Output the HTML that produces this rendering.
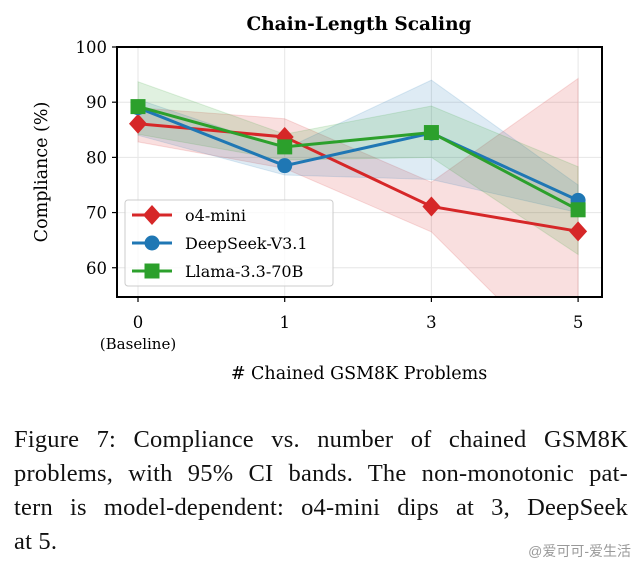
<!DOCTYPE html>
<html><head><meta charset="utf-8"><style>
body{margin:0;width:639px;height:568px;background:#fff;overflow:hidden;font-family:"Liberation Serif","DejaVu Serif",serif;}
#cap{position:absolute;left:14px;top:423px;width:614px;font-size:24.5px;letter-spacing:0.2px;line-height:34px;color:#111;}
#cap div{text-align:justify;text-align-last:justify;white-space:nowrap;}
#cap div.last{text-align-last:left;}
#wm{position:absolute;right:8px;top:541px;font-size:14px;color:#999;font-family:"Liberation Sans","Noto Sans CJK SC",sans-serif;}
</style></head><body>
<svg id="chart" width="639" height="420" style="position:absolute;left:0;top:0" font-family="DejaVu Serif, Liberation Serif, serif"></svg>
<div id="cap"><div>Figure 7: Compliance vs. number of chained GSM8K</div><div>problems, with 95% CI bands. The non-monotonic pat-</div><div>tern is model-dependent: o4-mini dips at 3, DeepSeek</div><div class="last">at 5.</div></div>
<div id="wm">@爱可可-爱生活</div>
<script>
const categories=["0","1","3","5"];
const yTicks=[60,70,80,90,100];
const o4Values=[86.1,83.7,71.1,66.6];
const o4Lo=[82.8,78,66.5,40];
const o4Hi=[89,87,75.5,94.3];
const dsValues=[89,78.5,84.4,72.2];
const dsLo=[84,76.8,76,70];
const dsHi=[90.5,81.5,94,75];
const llValues=[89.2,81.9,84.5,70.5];
const llLo=[84.2,79.5,80,62.4];
const llHi=[93.7,84.2,89.3,78.3];
const NS="http://www.w3.org/2000/svg";
const svg=document.getElementById('chart');
const L=117,R=602,T=47,B=297,ymin=54.7,ymax=100;
const X=i=>138+i*146.7;
const Y=v=>T+(ymax-v)/(ymax-ymin)*(B-T);
function mk(t,a,p){const e=document.createElementNS(NS,t);for(const k in a)e.setAttribute(k,a[k]);(p||svg).appendChild(e);return e;}
const defs=mk('defs',{});const cp=mk('clipPath',{id:'cp'},defs);mk('rect',{x:L,y:T,width:R-L,height:B-T},cp);
const grid=mk('g',{});


yTicks.forEach(v=>{mk('line',{x1:L,x2:R,y1:Y(v),y2:Y(v),stroke:'#e6e6e6','stroke-width':1},grid);});
categories.forEach((c,i)=>{mk('line',{x1:X(i),x2:X(i),y1:T,y2:B,stroke:'#e6e6e6','stroke-width':1},grid);});
const series=[
 {n:'o4-mini',c:'#d62728',v:o4Values,lo:o4Lo,hi:o4Hi,m:'d'},
 {n:'DeepSeek-V3.1',c:'#1f77b4',v:dsValues,lo:dsLo,hi:dsHi,m:'o'},
 {n:'Llama-3.3-70B',c:'#2ca02c',v:llValues,lo:llLo,hi:llHi,m:'s'}];
const bands=mk('g',{'clip-path':'url(#cp)'});
series.forEach(s=>{let d='M'+s.hi.map((v,i)=>X(i)+','+Y(v)).join('L')+'L'+s.lo.map((v,i)=>[i,v]).reverse().map(([i,v])=>X(i)+','+Y(v)).join('L')+'Z';
 const p=mk('path',{d:d,fill:s.c,'fill-opacity':0.15,stroke:s.c,'stroke-opacity':0.15},bands);
 
 });
function marker(g,m,x,y,c){if(m==='d')return mk('path',{d:`M${x},${y-10}L${x+9},${y}L${x},${y+10}L${x-9},${y}Z`,fill:c},g);
 if(m==='o')return mk('circle',{cx:x,cy:y,r:7.5,fill:c},g);return mk('rect',{x:x-7.5,y:y-7.5,width:15,height:15,fill:c},g);}
series.forEach(s=>{const g=mk('g',{});
 
 
 mk('polyline',{points:s.v.map((v,i)=>X(i)+','+Y(v)).join(' '),fill:'none',stroke:s.c,'stroke-width':3},g);
 s.v.forEach((v,i)=>{const e=marker(g,s.m,X(i),Y(v),s.c);
  
  });});
mk('rect',{x:L,y:T,width:R-L,height:B-T,fill:'none',stroke:'#000','stroke-width':2});
yTicks.forEach(v=>{mk('line',{x1:L-5,x2:L,y1:Y(v),y2:Y(v),stroke:'#000','stroke-width':1.2});
 const t=mk('text',{x:L-10,y:Y(v)+6,'text-anchor':'end','font-size':16.5});t.textContent=v;
 
 });
categories.forEach((c,i)=>{mk('line',{x1:X(i),x2:X(i),y1:B,y2:B+5,stroke:'#000','stroke-width':1.2});
 const t=mk('text',{x:X(i),y:B+31,'text-anchor':'middle','font-size':16.5});t.textContent=c;
 
 });
let t=mk('text',{x:X(0),y:B+52,'text-anchor':'middle','font-size':15});t.textContent='(Baseline)';


t=mk('text',{x:359,y:379,'text-anchor':'middle','font-size':17.5});t.textContent='# Chained GSM8K Problems';


t=mk('text',{x:0,y:0,'text-anchor':'middle','font-size':17.5,transform:`translate(47,172) rotate(-90)`});t.textContent='Compliance (%)';


t=mk('text',{x:359,y:30,'text-anchor':'middle','font-size':18.5,'font-weight':'bold'});t.textContent='Chain-Length Scaling';


const lg=mk('g',{});


mk('rect',{x:125,y:200,width:208,height:86,rx:3,fill:'#fff','fill-opacity':0.8,stroke:'#ccc'},lg);
series.forEach((s,i)=>{const y=215+i*28;
 mk('line',{x1:132,x2:172,y1:y,y2:y,stroke:s.c,'stroke-width':3},lg);marker(lg,s.m,152,y,s.c);
 const tt=mk('text',{x:185,y:y+6,'font-size':16},lg);tt.textContent=s.n;
 
 });
</script>
</body></html>
